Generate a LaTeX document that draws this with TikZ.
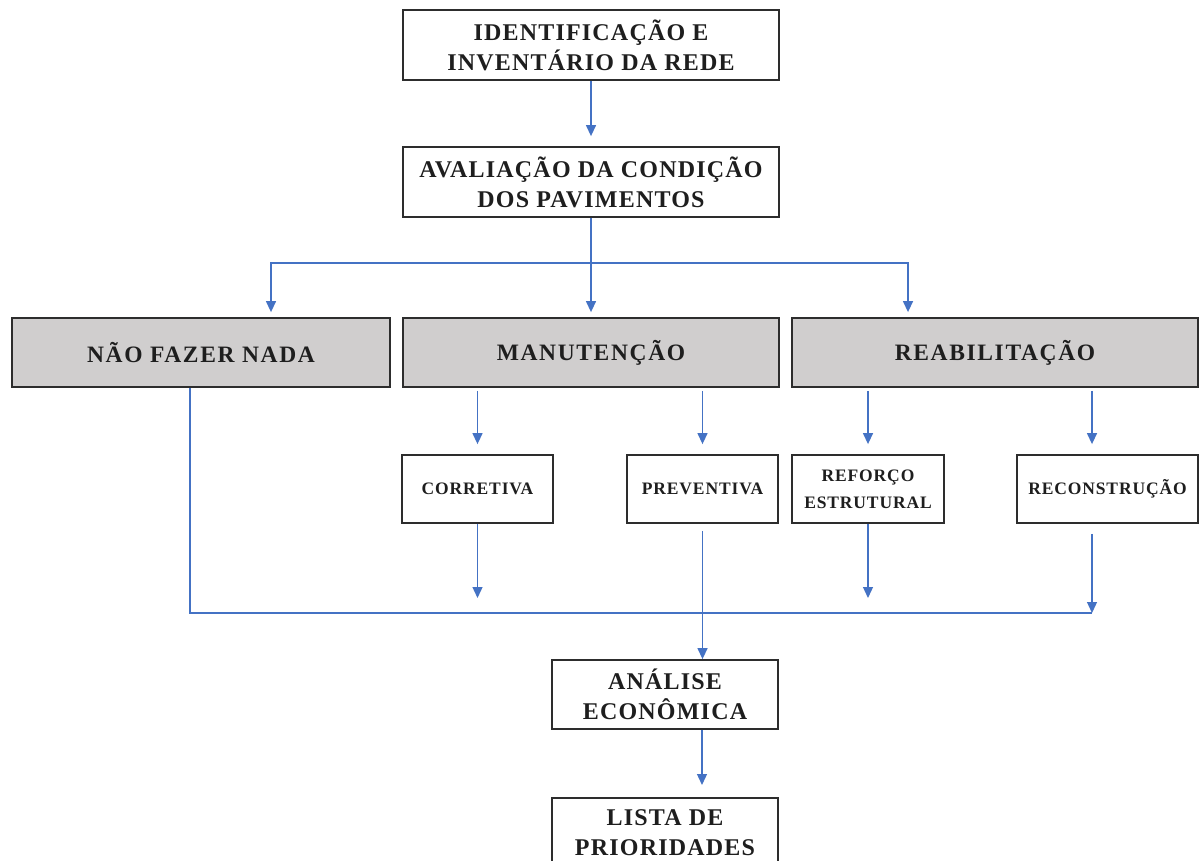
\documentclass[tikz,border=0pt]{standalone}
\usepackage{fontspec}
\setmainfont{Liberation Serif}
\newfontfamily\spacedA{Liberation Serif}[LetterSpace=5]
\newfontfamily\spacedB{Liberation Serif}[LetterSpace=7]
\usetikzlibrary{arrows.meta,calc}
\definecolor{arrowblue}{RGB}{68,114,196}
\definecolor{boxgray}{RGB}{208,206,206}
\definecolor{edgecol}{RGB}{45,45,45}
\definecolor{txtcol}{RGB}{30,30,30}
\begin{document}
\begin{tikzpicture}[x=1pt,y=-1pt,
  box/.style={draw=edgecol,line width=1.8pt,fill=white,align=center,inner sep=0pt,text=txtcol},
  bigtxt/.style={font=\spacedA\fontsize{24}{30}\selectfont\bfseries},
  rowtxt/.style={font=\spacedB\fontsize{23.5}{26}\selectfont\bfseries},
  smalltxt/.style={font=\spacedA\fontsize{17.5}{27}\selectfont\bfseries},
  graybox/.style={box,fill=boxgray},
  conn/.style={draw=arrowblue,line width=1.3pt},
  arr/.style={conn,-{Triangle[width=10pt,length=11pt]}}]
\useasboundingbox (0,0) rectangle (1199,861);
\clip (0,0) rectangle (1199,861);
\fill[white] (0,0) rectangle (1199,861);

% top boxes
\node[box,bigtxt,minimum width=376pt,minimum height=70pt] (inv) at (591,45) {IDENTIFICAÇÃO E\\INVENTÁRIO DA REDE};
\node[box,bigtxt,minimum width=376pt,minimum height=70pt] (aval) at (591,182) {AVALIAÇÃO DA CONDIÇÃO\\DOS PAVIMENTOS};

% row
\node[graybox,rowtxt,minimum width=378pt,minimum height=69pt] (nada) at (201,352.5) {NÃO FAZER NADA};
\node[graybox,rowtxt,minimum width=376pt,minimum height=69pt] (man) at (591,352.5) {MANUTENÇÃO};
\node[graybox,rowtxt,minimum width=406pt,minimum height=69pt] (reab) at (995,352.5) {REABILITAÇÃO};

% small boxes
\node[box,smalltxt,minimum width=151pt,minimum height=68pt] (cor) at (477.5,489) {CORRETIVA};
\node[box,smalltxt,minimum width=151pt,minimum height=68pt] (prev) at (702.5,489) {PREVENTIVA};
\node[box,smalltxt,minimum width=152pt,minimum height=68pt] (ref) at (868,489) {REFORÇO\\ESTRUTURAL};
\node[box,smalltxt,minimum width=181pt,minimum height=68pt] (rec) at (1107.5,489) {RECONSTRUÇÃO};

% bottom boxes
\node[box,bigtxt,minimum width=226pt,minimum height=69pt] (ana) at (665,694.5) {ANÁLISE\\ECONÔMICA};
\node[box,bigtxt,minimum width=226pt,minimum height=70pt,anchor=north] (lista) at (665,797) {LISTA DE\\PRIORIDADES};

% coordinates
\coordinate (j1) at (591,263);
\coordinate (base) at (0,613);

% connectors top
\draw[arr,shorten >=10pt] (inv.south) -- (aval.north);
\draw[conn] (aval.south) -- (j1);
\draw[arr,shorten >=5pt] (j1) -- (man.north);
\draw[arr,shorten >=5pt] (j1) -| ([xshift=70pt]nada.north);
\draw[arr,shorten >=5pt] (j1) -| ([xshift=-87pt]reab.north);

% row -> small boxes
\draw[arr,shorten <=3pt,shorten >=10pt] (cor.north |- man.south) -- (cor.north);
\draw[arr,shorten <=3pt,shorten >=10pt] (prev.north |- man.south) -- (prev.north);
\draw[arr,shorten <=3pt,shorten >=10pt] (ref.north |- reab.south) -- (ref.north);
\draw[arr,shorten <=3pt,shorten >=10pt] ([xshift=-15.5pt]rec.north |- reab.south) -- ([xshift=-15.5pt]rec.north);

% small boxes -> collector line
\coordinate (c1) at (cor.south |- base);
\coordinate (c3) at (ref.south |- base);
\coordinate (c4) at ([xshift=-15.5pt]rec.south |- base);
\draw[arr,shorten >=15pt] (cor.south) -- (c1);
\draw[arr,shorten >=15pt] (ref.south) -- (c3);
\draw[arr,shorten <=10pt] ([xshift=-15.5pt]rec.south) -- (c4);
\draw[conn] ([xshift=-11pt]nada.south) |- (c4);
\draw[arr,shorten <=7pt] (prev.south) -- (prev.south |- ana.north);

% bottom
\draw[arr,shorten >=12pt] ([xshift=37pt]ana.south) -- ([xshift=37pt]lista.north);
\end{tikzpicture}
\end{document}
